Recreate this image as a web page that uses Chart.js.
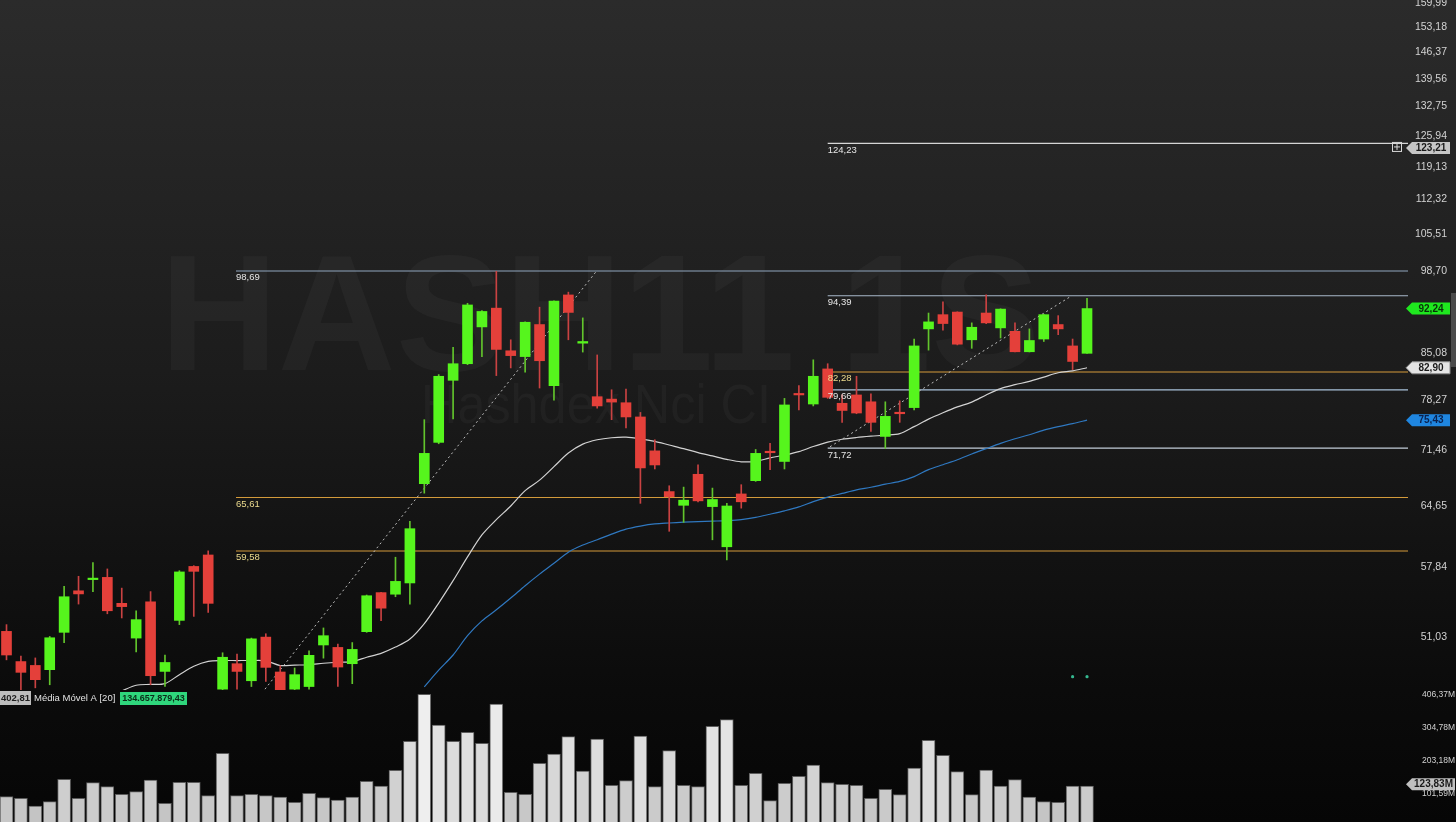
<!DOCTYPE html>
<html lang="pt-BR">
<head>
  <meta charset="UTF-8">
  <title>HASH11 1S</title>
  <script src="https://cdn.jsdelivr.net/npm/chart.js@4.4.1/dist/chart.umd.min.js"></script>
  <style>
    html, body { margin: 0; padding: 0; background: #000; }
    #grafico { display: block; }
  </style>
</head>
<body>
  <canvas id="grafico" width="1456" height="822"></canvas>
  <script>
    // Velas diárias
    const abertura = [51.55, 48.82, 48.48, 48.11, 51.46, 55.46, 56.59, 56.82, 54.22, 50.93,
      54.37, 47.96, 52.58, 57.95, 59.16, 46.45, 48.63, 47.16, 51.02, 47.91,
      46.45, 46.67, 50.30, 50.08, 48.63, 51.52, 55.28, 55.12, 56.25, 67.27,
      72.47, 81.05, 83.51, 89.24, 92.31, 85.48, 84.59, 89.62, 80.27, 94.53,
      86.66, 78.69, 78.35, 77.84, 75.87, 71.37, 66.32, 64.70, 68.42, 64.55,
      60.04, 66.04, 67.64, 71.25, 70.02, 79.09, 77.66, 82.73, 77.76, 78.94,
      77.97, 73.25, 76.41, 77.16, 88.92, 91.23, 91.66, 87.19, 91.50, 89.08,
      88.53, 85.33, 87.31, 89.62, 86.23, 85.09];
    const maxima = [52.18, 49.31, 49.14, 51.08, 55.90, 56.93, 58.36, 57.69, 55.73, 53.50,
      55.38, 49.40, 57.51, 58.03, 59.60, 49.60, 49.49, 50.93, 51.33, 48.45,
      48.26, 49.77, 51.87, 50.39, 50.52, 55.04, 55.30, 58.92, 62.86, 75.50,
      81.89, 86.02, 93.12, 91.90, 98.65, 87.19, 90.05, 92.47, 93.55, 95.01,
      90.70, 84.84, 79.68, 79.78, 76.49, 72.81, 67.02, 66.86, 69.61, 66.74,
      64.93, 67.15, 71.55, 72.36, 78.45, 80.27, 84.10, 83.51, 78.94, 81.64,
      79.09, 77.97, 78.11, 87.31, 91.50, 93.38, 91.70, 89.89, 94.53, 92.20,
      89.89, 88.92, 91.30, 91.07, 87.31, 93.95];
    const minima = [48.97, 46.39, 46.56, 46.82, 50.52, 54.15, 55.38, 53.21, 52.81, 49.68,
      46.82, 46.67, 52.18, 52.96, 53.34, 46.39, 46.45, 46.67, 47.10, 46.30,
      46.39, 46.45, 49.12, 46.67, 46.91, 51.46, 52.56, 54.87, 54.15, 66.13,
      72.29, 75.60, 83.37, 84.59, 81.74, 82.88, 82.23, 79.93, 78.20, 87.19,
      85.28, 77.08, 75.50, 74.39, 64.93, 69.08, 61.74, 62.74, 65.11, 60.80,
      58.64, 64.37, 67.55, 69.00, 69.08, 76.85, 77.39, 78.45, 75.14, 76.31,
      73.93, 71.69, 75.14, 76.85, 85.58, 88.70, 86.39, 85.86, 89.78, 87.47,
      85.30, 85.30, 86.92, 88.00, 82.63, 85.09];
    const fechamento = [49.40, 47.88, 47.25, 50.96, 54.87, 55.15, 56.69, 53.50, 53.90, 52.65,
      47.59, 48.74, 57.38, 57.44, 54.22, 49.20, 47.96, 50.86, 48.31, 46.39,
      47.68, 49.37, 51.15, 48.34, 49.90, 54.97, 53.75, 56.41, 62.03, 71.05,
      81.64, 83.51, 92.84, 91.76, 85.69, 84.74, 89.99, 83.96, 93.49, 91.60,
      86.92, 77.39, 77.93, 75.87, 69.21, 69.58, 65.71, 65.30, 65.22, 65.38,
      64.62, 65.11, 71.05, 71.13, 77.53, 78.94, 81.64, 78.60, 76.76, 76.41,
      75.14, 75.95, 76.31, 86.23, 90.05, 89.78, 86.50, 89.18, 89.89, 92.15,
      85.33, 87.08, 91.23, 88.92, 83.85, 92.24];

    // Volume em milhões
    const volumeM = [91.1, 86.1, 62.2, 75.6, 145.0, 86.1, 134.5, 122.1, 98.5, 106.6,
      142.8, 70.6, 135.7, 135.7, 94.2, 225.6, 94.2, 98.5, 94.2, 90.1,
      73.7, 101.6, 88.0, 80.8, 90.1, 138.8, 124.2, 172.9, 262.8, 408.5,
      313.3, 262.8, 290.7, 256.6, 378.4, 104.7, 98.5, 194.6, 223.4, 277.1,
      170.7, 269.9, 126.4, 140.7, 279.2, 122.1, 233.7, 126.4, 122.1, 309.3,
      329.8, 126.4, 163.6, 78.7, 132.6, 154.3, 189.3, 134.5, 129.5, 126.4,
      86.1, 114.0, 97.3, 180.0, 265.9, 219.4, 168.6, 97.3, 173.8, 124.2,
      143.8, 90.1, 75.6, 73.7, 124.2, 123.83];

    // Médias móveis (linha clara e linha azul)
    const mediaCurta = [null, null, null, null, null, null, null, null, 46.30, 46.78,
      46.85, 46.92, 47.68, 48.41, 48.84, 48.91, 48.91, 48.91, 48.88, 48.47,
      48.51, 48.54, 48.67, 48.76, 48.81, 49.20, 49.55, 50.11, 50.84, 52.27,
      54.25, 56.48, 58.95, 61.34, 63.05, 64.62, 66.43, 67.70, 69.37, 71.09,
      72.24, 72.81, 73.08, 73.15, 72.94, 72.61, 72.13, 71.66, 71.15, 70.72,
      70.29, 69.98, 70.04, 70.47, 70.84, 71.28, 71.93, 72.50, 72.88, 73.11,
      73.28, 73.42, 73.62, 74.56, 75.57, 76.45, 77.26, 77.93, 78.94, 79.85,
      80.41, 80.89, 81.52, 82.16, 82.45, 82.90];
    const mediaLonga = [null, null, null, null, null, null, null, null, null, null,
      null, null, null, null, null, null, null, null, null, null,
      null, null, null, null, null, null, null, null, null, 46.65,
      48.07, 49.40, 51.15, 52.53, 53.59, 54.74, 55.97, 57.15, 58.28, 59.46,
      60.23, 60.80, 61.42, 61.98, 62.32, 62.56, 62.67, 62.76, 62.82, 62.88,
      62.94, 63.05, 63.30, 63.67, 64.06, 64.51, 65.13, 65.67, 66.10, 66.53,
      66.84, 67.21, 67.55, 68.13, 69.00, 69.61, 70.23, 70.97, 71.66, 72.34,
      72.94, 73.48, 74.09, 74.56, 74.96, 75.43];

    // Níveis horizontais desenhados e a vela onde começam
    const niveis = [124.23, 98.69, 94.39, 82.28, 79.66, 71.72, 65.61, 59.58];
    const inicioNivel = [57, 15.93, 57, 57, 57, 57, 15.93, 15.93];

    // Linhas de tendência (vela, preço)
    const tendenciaAx = [17.94, 40.99];
    const tendenciaAy = [46.45, 98.80];
    const tendenciaBx = [57.16, 73.94];
    const tendenciaBy = [71.90, 94.39];

    // Marcadores do indicador
    const pontosX = [74, 75];
    const pontosY = [47.51, 47.51];

    // Escalas
    const eixoPreco = [159.99, 153.18, 146.37, 139.56, 132.75, 125.94, 119.13, 112.32,
      105.51, 98.70, 85.08, 78.27, 71.46, 64.65, 57.84, 51.03];
    const eixoVolume = [101.59, 203.18, 304.78, 406.37];

    const alerta = 123.21;
    const mediaVolume = 402.81;
    const mediaVolumeValor = '134.657.879,43';

    const FONTE = '"Liberation Sans", Arial, sans-serif';
    const PAINEL_VOL = 132;
    const X_MIN = -0.451, X_MAX = 97.28;

    const idx = abertura.map((_, i) => i);
    const alta = idx.map(i => fechamento[i] >= abertura[i]);
    const virgula = v => v.toFixed(2).replace('.', ',');

    const corNivel = ['#d6d6d6', '#8fa6bd', '#a9b9ca', '#d39a3a', '#a9c2da', '#c2ccd8', '#d39a3a', '#d39a3a'];
    const corTextoNivel = ['#e6e6e6', '#e6e6e6', '#e6e6e6', '#ecdb8e', '#e6e6e6', '#e6e6e6', '#ecdb8e', '#ecdb8e'];

    const datasets = [];

    // volume
    datasets.push({
      type: 'bar', yAxisID: 'yv', order: 10, grouped: false,
      data: idx.map(i => ({ x: i, y: volumeM[i] })),
      barThickness: 13,
      backgroundColor: volumeM.map(v => {
        const g = Math.round(188 + 50 * Math.min(v / 410, 1));
        return `rgb(${g},${g},${g})`;
      }),
      borderColor: '#5c5c5c', borderWidth: 1, borderSkipped: 'bottom'
    });

    // níveis
    niveis.forEach((v, k) => {
      datasets.push({
        type: 'line', yAxisID: 'y', order: 8,
        data: [{ x: inicioNivel[k], y: v }, { x: X_MAX, y: v }],
        borderColor: corNivel[k], borderWidth: 1.1, pointRadius: 0
      });
    });

    // médias
    datasets.push({
      type: 'line', yAxisID: 'y', order: 6,
      data: idx.filter(i => mediaCurta[i] !== null).map(i => ({ x: i, y: mediaCurta[i] })),
      borderColor: '#d2d2d2', borderWidth: 1.2, pointRadius: 0, tension: 0.3
    });
    datasets.push({
      type: 'line', yAxisID: 'y', order: 6,
      data: idx.filter(i => mediaLonga[i] !== null).map(i => ({ x: i, y: mediaLonga[i] })),
      borderColor: '#2f78c0', borderWidth: 1.2, pointRadius: 0, tension: 0.3
    });

    // tendências pontilhadas
    [[tendenciaAx, tendenciaAy], [tendenciaBx, tendenciaBy]].forEach(([xs, ys]) => {
      datasets.push({
        type: 'line', yAxisID: 'y', order: 5,
        data: xs.map((x, j) => ({ x, y: ys[j] })),
        borderColor: '#bcbcbc', borderWidth: 1, borderDash: [2, 3], pointRadius: 0
      });
    });

    // pavios
    datasets.push({
      type: 'bar', yAxisID: 'y', order: 3, grouped: false,
      data: idx.map(i => ({ x: i, y: [minima[i], maxima[i]] })),
      barThickness: 1,
      backgroundColor: alta.map(a => a ? '#62c42c' : '#c94242')
    });

    // corpos
    datasets.push({
      type: 'bar', yAxisID: 'y', order: 2, grouped: false,
      data: idx.map(i => ({ x: i, y: [abertura[i], fechamento[i]] })),
      barThickness: 10, minBarLength: 1.5,
      backgroundColor: alta.map(a => a ? '#56f51d' : '#e4403a')
    });

    // pontos do indicador
    datasets.push({
      type: 'line', yAxisID: 'y', order: 1, showLine: false,
      data: pontosX.map((x, j) => ({ x, y: pontosY[j] })),
      pointRadius: 1.6, pointBackgroundColor: '#35b890', pointBorderWidth: 0
    });

    function etiqueta(ctx, x, y, texto, fundo, cor, w, borda) {
      const h = 12;
      ctx.beginPath();
      ctx.moveTo(x, y);
      ctx.lineTo(x + 6, y - h / 2);
      ctx.lineTo(x + 6 + w, y - h / 2);
      ctx.lineTo(x + 6 + w, y + h / 2);
      ctx.lineTo(x + 6, y + h / 2);
      ctx.closePath();
      ctx.fillStyle = fundo;
      ctx.fill();
      if (borda) { ctx.strokeStyle = borda; ctx.lineWidth = 1; ctx.stroke(); }
      ctx.font = 'bold 10px ' + FONTE;
      ctx.fillStyle = cor;
      ctx.textAlign = 'center';
      ctx.textBaseline = 'middle';
      ctx.fillText(texto, x + 6 + w / 2, y + 0.5);
    }

    const decoracao = {
      id: 'decoracao',
      afterLayout(chart) {
        // rótulos de preço alinhados à direita em x = 1447
        const s = chart.scales.y;
        s.right = s.left + 39;
        chart.scales.yv.right = chart.scales.yv.left + 47;
      },
      beforeDraw(chart) {
        const { ctx, width, height } = chart;
        const g = ctx.createLinearGradient(0, 0, 0, height);
        g.addColorStop(0, '#2b2b2b');
        g.addColorStop(0.45, '#1c1c1c');
        g.addColorStop(0.84, '#0b0b0b');
        g.addColorStop(1, '#060606');
        ctx.save();
        ctx.fillStyle = g;
        ctx.fillRect(0, 0, width, height);
        ctx.restore();
      },
      beforeDatasetsDraw(chart) {
        const ctx = chart.ctx;
        ctx.save();
        ctx.fillStyle = 'rgba(255,255,255,0.03)';
        ctx.textBaseline = 'alphabetic';
        ctx.textAlign = 'left';
        ctx.font = 'bold 165px ' + FONTE;
        let w = ctx.measureText('HASH11 1S').width;
        ctx.save();
        ctx.translate(160, 370);
        ctx.scale(880 / w, 1);
        ctx.fillText('HASH11 1S', 0, 0);
        ctx.restore();
        ctx.font = '56px ' + FONTE;
        w = ctx.measureText('Hashdex Nci CI').width;
        ctx.translate(421, 423);
        ctx.scale(350 / w, 1);
        ctx.fillText('Hashdex Nci CI', 0, 0);
        ctx.restore();
      },
      afterDatasetsDraw(chart) {
        const { ctx, scales } = chart;
        ctx.save();
        ctx.font = '9.5px ' + FONTE;
        ctx.textAlign = 'left';
        ctx.textBaseline = 'top';
        niveis.forEach((v, k) => {
          const x = scales.x.getPixelForValue(inicioNivel[k]);
          const y = scales.y.getPixelForValue(v);
          ctx.fillStyle = corTextoNivel[k];
          ctx.fillText(virgula(v), x, y + 2);
        });
        // legenda do volume
        const top = scales.yv.top;
        ctx.fillStyle = '#bdbdbd';
        ctx.fillRect(0, top + 1, 31, 14);
        ctx.font = 'bold 9.5px ' + FONTE;
        ctx.fillStyle = '#1e1e1e';
        ctx.textBaseline = 'middle';
        ctx.textAlign = 'right';
        ctx.fillText(virgula(mediaVolume), 30, top + 8.5);
        ctx.textAlign = 'left';
        ctx.font = '9.5px ' + FONTE;
        ctx.fillStyle = '#e2e2e2';
        ctx.fillText('Média Móvel A [20]', 34, top + 8.5);
        ctx.fillStyle = '#2fd67c';
        ctx.fillRect(120, top + 2, 67, 13);
        ctx.font = 'bold 9px ' + FONTE;
        ctx.fillStyle = '#0b2b18';
        ctx.textAlign = 'center';
        ctx.fillText(mediaVolumeValor, 153.5, top + 8.5);
        ctx.restore();
      },
      afterDraw(chart) {
        const { ctx, scales } = chart;
        const n = fechamento.length - 1;
        const x0 = scales.y.left - 2;
        ctx.save();
        etiqueta(ctx, x0, scales.y.getPixelForValue(alerta), virgula(alerta), '#c6c6c6', '#1a1a1a', 38);
        etiqueta(ctx, x0, scales.y.getPixelForValue(fechamento[n]), virgula(fechamento[n]), '#1fe81f', '#0a300a', 38);
        etiqueta(ctx, x0, scales.y.getPixelForValue(mediaCurta[n]), virgula(mediaCurta[n]), '#e4e4e4', '#1a1a1a', 38, '#8a8a8a');
        etiqueta(ctx, x0, scales.y.getPixelForValue(mediaLonga[n]), virgula(mediaLonga[n]), '#1f86e0', '#0a2250', 38);
        etiqueta(ctx, x0, scales.yv.getPixelForValue(volumeM[n]) - 2, virgula(volumeM[n]) + 'M', '#c0c0c0', '#1a1a1a', 43);
        // ícone "+" ao lado do alerta
        const ya = scales.y.getPixelForValue(alerta);
        ctx.strokeStyle = '#d8d8d8';
        ctx.lineWidth = 1;
        ctx.strokeRect(1392.5, ya - 5.5, 9, 9);
        ctx.beginPath();
        ctx.moveTo(1394, ya - 1); ctx.lineTo(1400, ya - 1);
        ctx.moveTo(1397, ya - 4); ctx.lineTo(1397, ya + 2);
        ctx.stroke();
        // barra de rolagem
        ctx.fillStyle = '#4a4a4a';
        ctx.fillRect(1451, 293, 5, 74);
        ctx.restore();
      }
    };

    const semPadding = scale => {
      scale.width = 48;
      scale.paddingTop = 0;
      scale.paddingBottom = 0;
    };

    new Chart(document.getElementById('grafico'), {
      type: 'bar',
      data: { datasets },
      options: {
        responsive: false,
        animation: false,
        events: [],
        devicePixelRatio: 1,
        layout: { padding: 0, autoPadding: false },
        plugins: { legend: { display: false }, tooltip: { enabled: false } },
        scales: {
          x: { type: 'linear', min: X_MIN, max: X_MAX, display: false, offset: false },
          y: {
            type: 'logarithmic', position: 'right', stack: 'direita', stackWeight: 822 - PAINEL_VOL,
            min: 46.38, max: 160.86, beginAtZero: false,
            grid: { display: false, drawTicks: false }, border: { display: false },
            ticks: {
              autoSkip: false, crossAlign: 'far', padding: 0, color: '#d2d2d2',
              font: { size: 10.5, family: FONTE },
              callback: v => virgula(v)
            },
            afterBuildTicks: s => { s.ticks = eixoPreco.map(v => ({ value: v })); },
            afterFit: semPadding
          },
          yv: {
            type: 'linear', position: 'right', stack: 'direita', stackWeight: PAINEL_VOL,
            min: 12.6, max: 421.9, beginAtZero: false,
            grid: { display: false, drawTicks: false }, border: { display: false },
            ticks: {
              autoSkip: false, crossAlign: 'far', padding: 0, color: '#d2d2d2',
              font: { size: 8.5, family: FONTE },
              callback: v => virgula(v) + 'M'
            },
            afterBuildTicks: s => { s.ticks = eixoVolume.map(v => ({ value: v })); },
            afterFit: semPadding
          }
        }
      },
      plugins: [decoracao]
    });
  </script>
</body>
</html>
